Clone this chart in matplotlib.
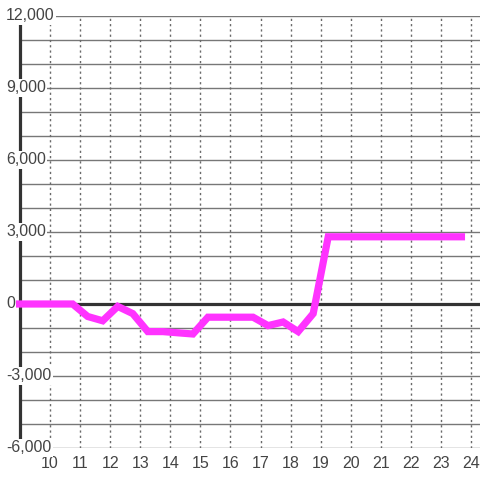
import matplotlib
matplotlib.use("Agg")
import matplotlib.pyplot as plt
import matplotlib.transforms as mtransforms

# half-hour samples (hour of day) and value
hours = [8.75, 9.25, 9.75, 10.25, 10.75, 11.25, 11.75, 12.25, 12.75, 13.25,
         13.75, 14.25, 14.75, 15.25, 15.75, 16.25, 16.75, 17.25, 17.75,
         18.25, 18.75, 19.25, 19.75, 20.25, 20.75, 21.25, 21.75, 22.25,
         22.75, 23.25, 23.8]
values = [0, 0, 0, 0, 0, -520, -700, -100, -400, -1150,
          -1150, -1200, -1250, -550, -550, -550, -550, -900, -750,
          -1150, -400, 2800, 2800, 2800, 2800, 2800, 2800, 2800,
          2800, 2800, 2800]

x_ticks = list(range(10, 25))
y_grid = list(range(-6000, 12001, 1000))
y_labels = list(range(-6000, 12001, 3000))

plt.rcParams["font.family"] = ["Liberation Sans", "DejaVu Sans"]
fig = plt.figure(figsize=(4.8, 4.8), dpi=100)
ax = fig.add_axes([20 / 480, 32 / 480, 460 / 480, 432 / 480])

ax.set_xlim(9, 9 + 460 / 30.07)
ax.set_ylim(-6000, 12000)

for s in ["top", "right", "bottom"]:
    ax.spines[s].set_visible(False)
ax.spines["left"].set_color("#333333")
ax.spines["left"].set_linewidth(2.3)
ax.spines["left"].set_zorder(3)

for v in y_grid:
    if v == 0:
        continue
    ax.axhline(v, color="#777777", lw=1, zorder=1)
for t in x_ticks:
    ax.axvline(t, color="#6a6a6a", lw=1, ls=(0, (1.6, 2.2)), zorder=1)
ax.axhline(0, color="#333333", lw=2.3, zorder=2)

ax.plot(hours, values, color="#ff33ff", lw=5.2, solid_capstyle="butt",
        solid_joinstyle="miter", zorder=4, clip_on=False)

ax.set_xticks(x_ticks)
ax.set_xticklabels([str(t) for t in x_ticks])
ax.tick_params(axis="x", length=0, pad=6, labelsize=11.5, labelcolor="#444444")
ax.set_yticks([])

tr = mtransforms.blended_transform_factory(fig.transFigure, ax.transData)
for v in y_labels:
    ax.text(6 / 480, v, f"{v:,}", transform=tr, ha="left", va="center",
            fontsize=11.5, color="#444444", zorder=10, clip_on=False,
            bbox=dict(boxstyle="square,pad=0.1", fc="white", ec="none"))

fig.savefig("out.png", dpi=100)
